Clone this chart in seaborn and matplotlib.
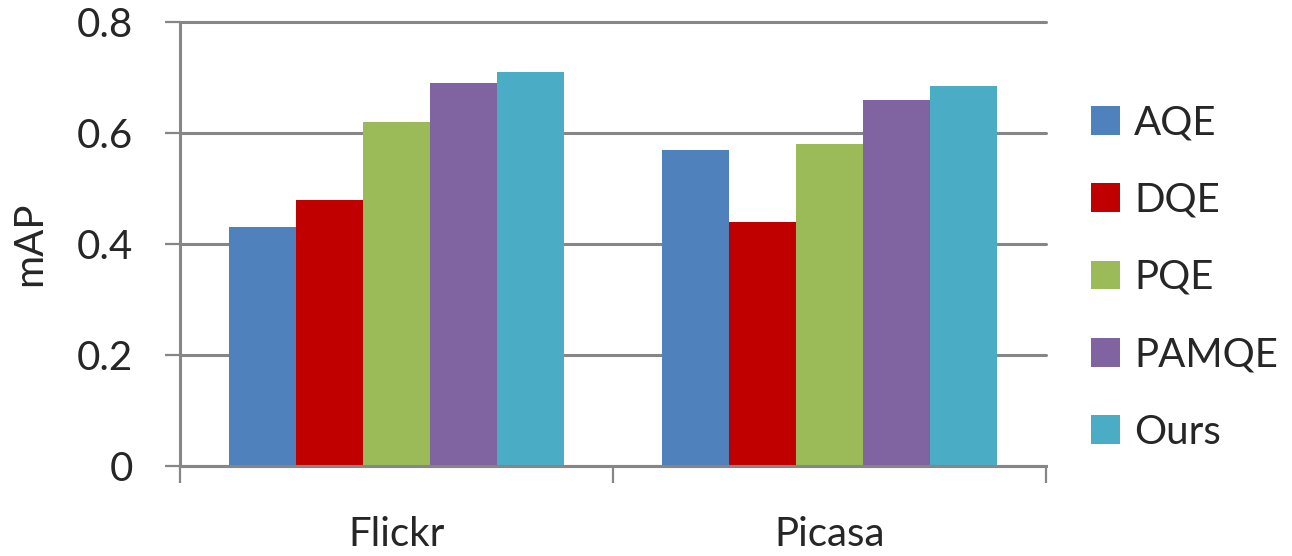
import matplotlib
matplotlib.use("Agg")
import matplotlib.pyplot as plt
import seaborn as sns
import pandas as pd

datasets = ["Flickr", "Picasa"]
methods = ["AQE", "DQE", "PQE", "PAMQE", "Ours"]
aqe = [0.43, 0.57]
dqe = [0.48, 0.44]
pqe = [0.62, 0.58]
pamqe = [0.69, 0.66]
ours = [0.71, 0.685]
colors = ["#4F81BD", "#C00000", "#9BBB59", "#8064A2", "#4BACC6"]
yticks = [0, 0.2, 0.4, 0.6, 0.8]
ytick_labels = ["0", "0.2", "0.4", "0.6", "0.8"]

series = [aqe, dqe, pqe, pamqe, ours]
rows = []
for m, vals in zip(methods, series):
    for d, v in zip(datasets, vals):
        rows.append({"dataset": d, "method": m, "mAP": v})
df = pd.DataFrame(rows)

sns.set_theme(style="white")
plt.rcParams["font.family"] = ["Lato", "DejaVu Sans"]

W, H = 1292, 556
fig = plt.figure(figsize=(W / 100, H / 100), dpi=100)
ax = fig.add_axes([180 / W, 1 - 466 / H, (1046 - 180) / W, (466 - 22) / H])

sns.barplot(data=df, x="dataset", y="mAP", hue="method", hue_order=methods,
            order=datasets, palette=colors, width=0.772, saturation=1,
            linewidth=0, gap=0, ax=ax, legend=True)

grey = "#868686"
fs = 29
ax.set_xlim(-0.5, 1.5)
ax.set_ylim(0, 0.8)
ax.set_yticks(yticks, ytick_labels)
ax.yaxis.grid(True, color=grey, linewidth=2.2)
for gl in ax.get_ygridlines():
    gl.set_clip_on(False)
ax.set_axisbelow(True)
for s in ["top", "right"]:
    ax.spines[s].set_visible(False)
for s in ["left", "bottom"]:
    ax.spines[s].set_color(grey)
    ax.spines[s].set_linewidth(2.2)
ax.tick_params(axis="y", which="major", length=11, width=1.6, color=grey,
               direction="out", labelsize=fs, pad=23, left=True)
ax.set_xticks([0, 1], datasets)
ax.set_xticks([-0.5, 0.5, 1.5], minor=True)
ax.tick_params(axis="x", which="major", length=0, labelsize=fs, pad=36)
ax.tick_params(axis="x", which="minor", length=12.5, width=1.6, color=grey,
               direction="out", bottom=True)
ax.set_xlabel("")
ax.set_ylabel("")
fig.text(30 / W, 1 - 244 / H, "mAP", rotation=90, ha="center", va="center",
         fontsize=fs)

handles, labels = ax.get_legend_handles_labels()
ax.legend(handles, labels, loc="center left",
          bbox_to_anchor=(1091 / W, 1 - 277.5 / H),
          bbox_transform=fig.transFigure, frameon=False, fontsize=fs,
          handlelength=0.72, handleheight=0.72, handletextpad=0.35,
          labelspacing=1.0, borderpad=0, borderaxespad=0, title=None)

fig.savefig("out.png", dpi=100, facecolor="white")
